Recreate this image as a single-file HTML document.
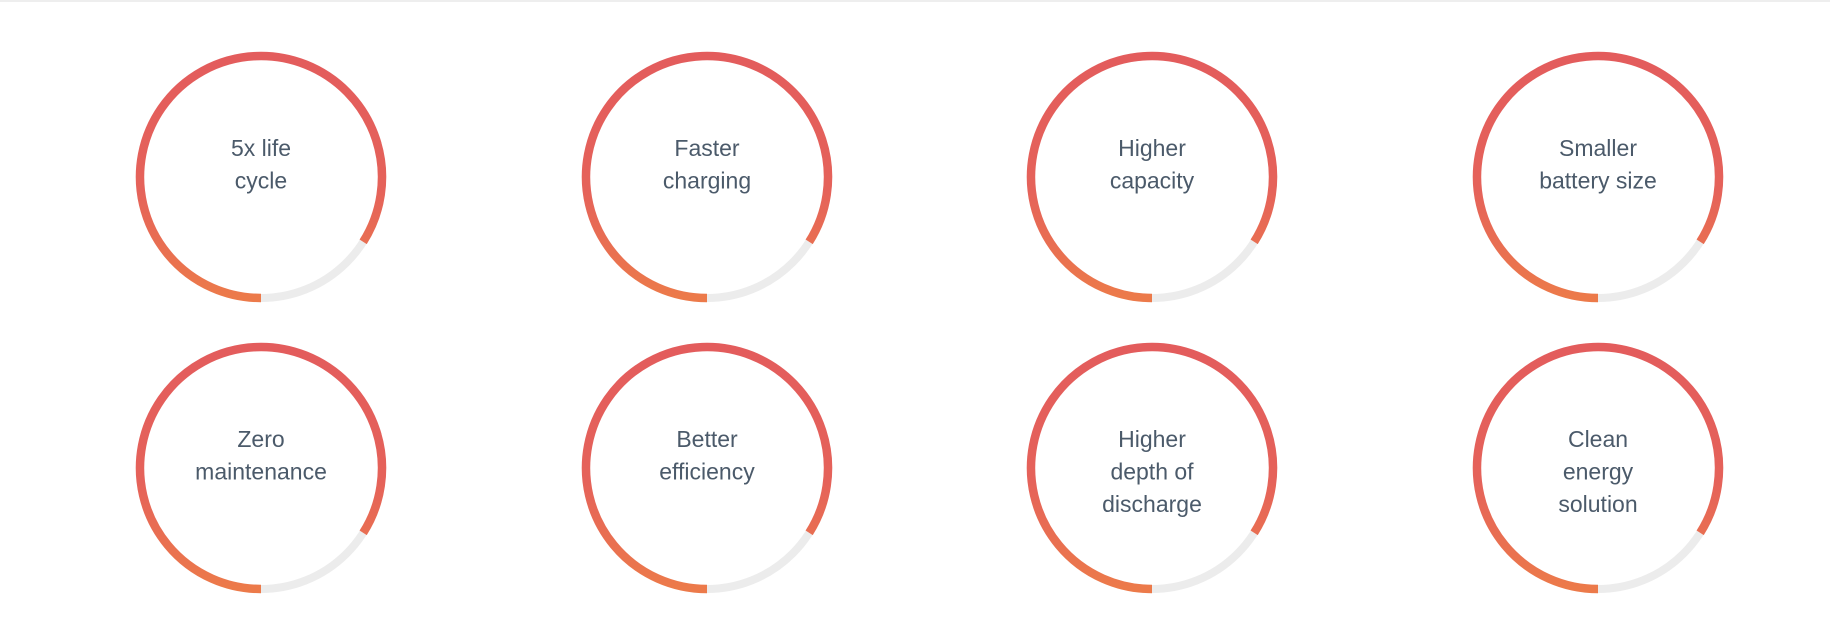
<!DOCTYPE html>
<html><head><meta charset="utf-8"><style>
html,body{margin:0;padding:0;background:#fff;width:1830px;height:617px;overflow:hidden}
svg{display:block}
text{font-family:"Liberation Sans",sans-serif;font-size:23px;fill:#4b5a6a;text-anchor:middle}
</style></head><body>
<svg id="chart" width="1830" height="617">
<defs><linearGradient id="g" gradientUnits="userSpaceOnUse" x1="0" y1="-121" x2="0" y2="121"><stop offset="0" stop-color="#e35c5c"/><stop offset="0.55" stop-color="#e5625a"/><stop offset="1" stop-color="#ec7a4a"/></linearGradient></defs>
<line x1="0" y1="1" x2="1830" y2="1" stroke="#eeeeee" stroke-width="2"/>
</svg>
<script>
const labels=[["5x life","cycle"],["Faster","charging"],["Higher","capacity"],["Smaller","battery size"],["Zero","maintenance"],["Better","efficiency"],["Higher","depth of","discharge"],["Clean","energy","solution"]];
const percents=[84,84,84,84,84,84,84,84];
const svg=document.getElementById('chart');
const NS='http://www.w3.org/2000/svg';
const cols=[261,707,1152,1598], rows=[177,468], R=121;
labels.forEach((lab,i)=>{
  const cx=cols[i%4], cy=rows[Math.floor(i/4)];
  const g=document.createElementNS(NS,'g');
  
  
  g.setAttribute('transform',`translate(${cx},${cy})`);
  const bg=document.createElementNS(NS,'circle');
  bg.setAttribute('cx',0);bg.setAttribute('cy',0);bg.setAttribute('r',R);
  bg.setAttribute('fill','none');bg.setAttribute('stroke','#ececec');bg.setAttribute('stroke-width','8');
  
  
  g.appendChild(bg);
  const a=percents[i]/100*2*Math.PI;
  const ex=-R*Math.sin(a), ey=R*Math.cos(a);
  const p=document.createElementNS(NS,'path');
  p.setAttribute('d',`M0 ${R} A${R} ${R} 0 ${a>Math.PI?1:0} 1 ${ex} ${ey}`);
  p.setAttribute('fill','none');p.setAttribute('stroke','url(#g)');p.setAttribute('stroke-width','8.5');
  
  
  g.appendChild(p);
  lab.forEach((t,j)=>{
    const tx=document.createElementNS(NS,'text');
    tx.setAttribute('x',0);tx.setAttribute('y',-21+j*32.5);
    tx.textContent=t;
    
    
    g.appendChild(tx);
  });
  svg.appendChild(g);
});
</script>
</body></html>
